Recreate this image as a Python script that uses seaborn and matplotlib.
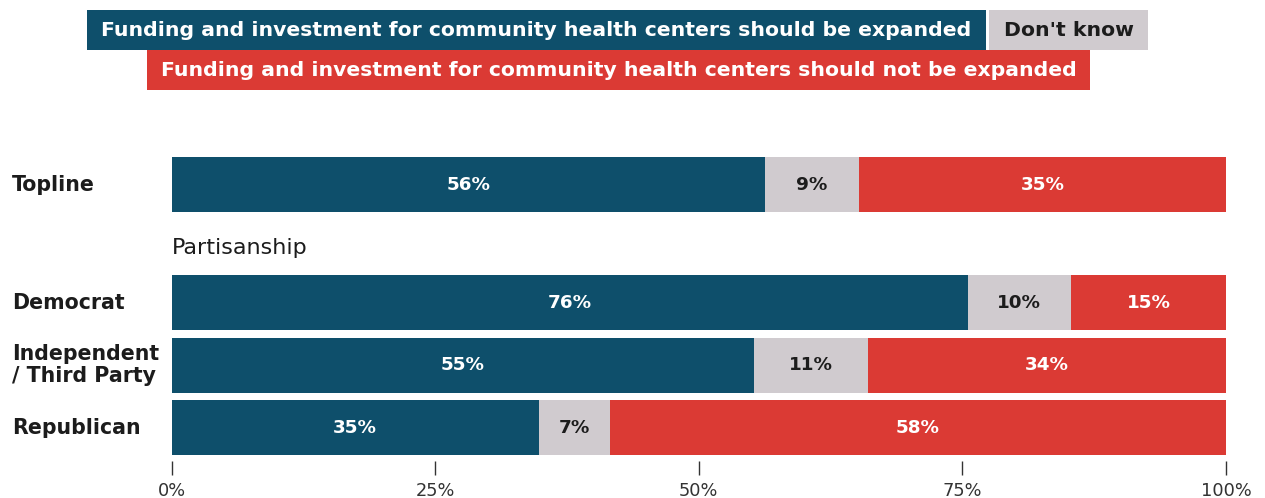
import matplotlib
matplotlib.use("Agg")
import matplotlib.pyplot as plt
import matplotlib.transforms as mtransforms
from matplotlib.patches import Rectangle
import numpy as np
import pandas as pd
import seaborn as sns

# Survey shares (percent of respondents)
groups = ["Topline", "Democrat", "Independent\n/ Third Party", "Republican"]
expanded = [56.28, 75.52, 55.27, 34.85]
dont_know = [8.94, 9.77, 10.81, 6.73]
not_expanded = [34.78, 14.71, 33.92, 58.42]

series_names = [
    "Funding and investment for community health centers should be expanded",
    "Don't know",
    "Funding and investment for community health centers should not be expanded",
]
x_ticks = [0, 25, 50, 75, 100]
x_tick_labels = ["0%", "25%", "50%", "75%", "100%"]
section_label = "Partisanship"

# Layout: row centres (topline separated from the partisan block)
row_pos = [0.0, 1.888, 2.888, 3.888]

BLUE = "#0e4f6b"
GRAY = "#d0cbcf"
RED = "#db3a34"
DARK = "#1c1c1c"

sns.set_theme(style="white")
plt.rcParams["font.family"] = ["DejaVu Sans"]

W, H = 1265, 498
fig = plt.figure(figsize=(W / 100, H / 100), dpi=100)

ax_left, ax_right = 171.5, 1226
ax_top, ax_bottom = 150, 461
ax = fig.add_axes([ax_left / W, (H - ax_bottom) / H,
                   (ax_right - ax_left) / W, (ax_bottom - ax_top) / H])

df = pd.DataFrame({
    "group": groups,
    "pos": row_pos,
    "expanded": expanded,
    "dont_know": dont_know,
    "not_expanded": not_expanded,
})
df["c1"] = df["expanded"]
df["c2"] = df["c1"] + df["dont_know"]
df["c3"] = df["c2"] + df["not_expanded"]

# Stacked bars: draw cumulative totals back to front
for col, color in [("c3", RED), ("c2", GRAY), ("c1", BLUE)]:
    sns.barplot(data=df, x=col, y="pos", orient="y", native_scale=True,
                width=0.88, color=color, saturation=1, linewidth=0,
                ax=ax, legend=False)

# Segment value labels
for _, r in df.iterrows():
    segs = [(0, r["expanded"], "white"),
            (r["c1"], r["dont_know"], DARK),
            (r["c2"], r["not_expanded"], "white")]
    for start, val, tc in segs:
        ax.text(start + val / 2, r["pos"], f"{val:.0f}%", ha="center",
                va="center", color=tc, fontsize=13.2, fontweight="bold")

ax.set_xlim(0, 100)
pitch = 62.5
ax.set_ylim((ax_bottom - 184.5) / pitch, (ax_top - 184.5) / pitch)
ax.set_xlabel("")
ax.set_ylabel("")
ax.set_yticks([])
ax.set_xticks(x_ticks)
ax.set_xticklabels(x_tick_labels, fontsize=12.8, color="#333333")
ax.tick_params(axis="x", direction="out", length=10, width=1, color="#333333",
               pad=5, bottom=True)
for s in ax.spines.values():
    s.set_visible(False)

# Row labels on the left margin
trans = mtransforms.blended_transform_factory(fig.transFigure, ax.transData)
for g, p in zip(groups, row_pos):
    ax.text(12 / W, p, g, transform=trans, ha="left", va="center",
            fontsize=14.8, fontweight="bold", color=DARK, linespacing=1.08)

ax.text(0, (248 - 184.5) / pitch, section_label, ha="left", va="center",
        fontsize=16, color=DARK)

# Legend as coloured label boxes above the chart
def label_box(x0, x1, y0, y1, face, text, tc):
    fig.patches.append(Rectangle((x0 / W, 1 - y1 / H), (x1 - x0) / W, (y1 - y0) / H,
                                 transform=fig.transFigure, facecolor=face,
                                 edgecolor="none", zorder=1))
    fig.text((x0 + x1) / 2 / W, 1 - (y0 + y1) / 2 / H, text, ha="center",
             va="center", color=tc, fontsize=14.7, fontweight="bold", zorder=2)

label_box(87, 986, 10, 50, BLUE, series_names[0], "white")
label_box(989, 1148, 10, 50, GRAY, series_names[1], DARK)
label_box(147, 1090, 50, 90, RED, series_names[2], "white")

fig.savefig("out.png", dpi=100)
